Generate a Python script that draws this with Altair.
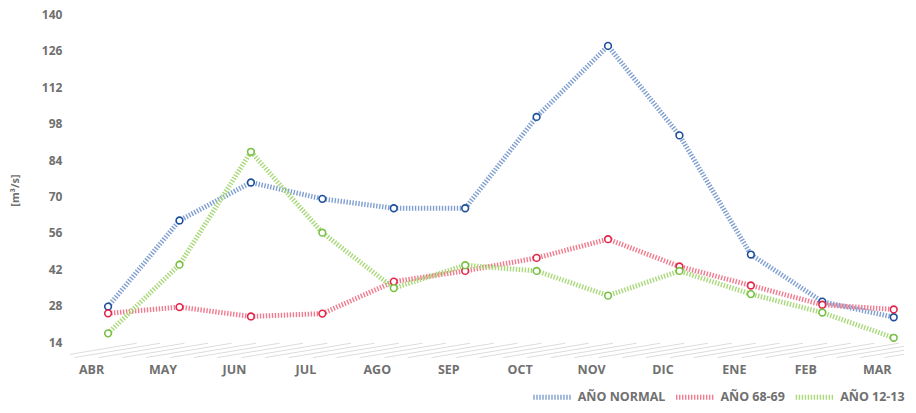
import altair as alt
import pandas as pd

months = ["ABR", "MAY", "JUN", "JUL", "AGO", "SEP", "OCT", "NOV", "DIC", "ENE", "FEB", "MAR"]
series_names = ["AÑO NORMAL", "AÑO 68-69", "AÑO 12-13"]
normal = [27.7, 60.8, 75.4, 69.1, 65.5, 65.5, 100.6, 127.9, 93.5, 47.7, 29.6, 23.6]
y6869 = [25.1, 27.5, 23.9, 25.0, 37.3, 41.4, 46.4, 53.6, 43.1, 35.8, 28.4, 26.6]
y1213 = [17.4, 43.8, 87.2, 56.1, 34.8, 43.6, 41.4, 31.9, 41.4, 32.5, 25.4, 15.7]
y_ticks = [14, 28, 42, 56, 70, 84, 98, 112, 126, 140]

# decorative 3D floor: start positions (category index units) of the floor hatch lines
floor_starts = [-0.8, -0.47, -0.13, 0.2, 0.53, 0.87, 1.2, 1.53, 1.87, 2.2, 2.53, 2.87, 3.2, 3.53,
                3.87, 4.2, 4.53, 4.87, 5.2, 5.53, 5.87, 6.2, 6.53, 6.87, 7.2, 7.53, 7.87, 8.2,
                8.53, 8.87, 9.2, 9.53, 9.87, 10.2, 10.53, 10.87, 11.2]
floor_front = 8.1
floor_back = 13.6
floor_span = 1.2

line_colors = ["#7f9fd0", "#f07a8e", "#a9d97a"]
point_colors = ["#1d4f9a", "#e3264a", "#78c043"]

rows = []
for name, vals in zip(series_names, [normal, y6869, y1213]):
    for i, (m, v) in enumerate(zip(months, vals)):
        rows.append({"idx": i, "month": m, "serie": name, "value": v})
df = pd.DataFrame(rows)

floor_df = pd.DataFrame({
    "x": floor_starts,
    "x2": [s + floor_span for s in floor_starts],
    "y": [floor_front] * len(floor_starts),
    "y2": [floor_back] * len(floor_starts),
})

label_expr = "[" + ",".join("'%s'" % m for m in months) + "][datum.value]"
xscale = alt.Scale(domain=[-0.535, 11.144], nice=False, zero=False)
yscale = alt.Scale(domain=[0, 140], nice=False)

x_enc = alt.X(
    "idx:Q",
    scale=xscale,
    axis=alt.Axis(
        values=list(range(12)), labelExpr=label_expr, grid=False, domain=False, ticks=False,
        labelPadding=-15, labelOffset=-17, labelFont="Open Sans", labelFontWeight="bold",
        labelFontSize=12.5, labelColor="#707070", title=None,
    ),
)
y_enc = alt.Y(
    "value:Q",
    scale=yscale,
    axis=alt.Axis(
        values=y_ticks, grid=False, domain=False, ticks=False, labelPadding=8,
        labelFont="Open Sans", labelFontWeight="bold", labelFontSize=12, labelColor="#707070",
        title="[m³/s]", titleFont="Open Sans", titleFontWeight="bold", titleFontSize=11,
        titleColor="#707070", titleAngle=270, titleX=-54, titleY=176,
        titleAlign="center", titleBaseline="middle",
    ),
)

floor = alt.Chart(floor_df).mark_rule(color="#dcdcdc", strokeWidth=1, clip=True).encode(
    x=alt.X("x:Q", scale=xscale), x2="x2:Q",
    y=alt.Y("y:Q", scale=yscale), y2="y2:Q",
)

lines = alt.Chart(df).mark_line(strokeWidth=5, strokeDash=[1.4, 1.6]).encode(
    x=x_enc,
    y=y_enc,
    color=alt.Color(
        "serie:N",
        scale=alt.Scale(domain=series_names, range=line_colors),
        legend=alt.Legend(
            title=None, orient="none", legendX=462, legendY=362, direction="horizontal",
            symbolType="stroke", symbolSize=1444, symbolStrokeWidth=5, symbolDash=[1.4, 1.6],
            labelFont="Open Sans", labelFontWeight="bold", labelFontSize=12.5, labelColor="#707070",
            labelOffset=4, columnPadding=0,
        ),
    ),
    detail="serie:N",
)

points = alt.Chart(df).mark_point(filled=False, fill="white", fillOpacity=1, size=45, strokeWidth=1.6, opacity=1).encode(
    x="idx:Q",
    y="value:Q",
    stroke=alt.Stroke("serie:N", scale=alt.Scale(domain=series_names, range=point_colors), legend=None),
)

chart = alt.layer(floor, lines, points).properties(
    width=836, height=365,
    autosize=alt.AutoSizeParams(type="none"),
    padding={"left": 62, "top": 6, "right": 4, "bottom": 34},
).configure_view(stroke=None)

chart.save("out.html", embed_options={"renderer": "svg", "actions": False})
